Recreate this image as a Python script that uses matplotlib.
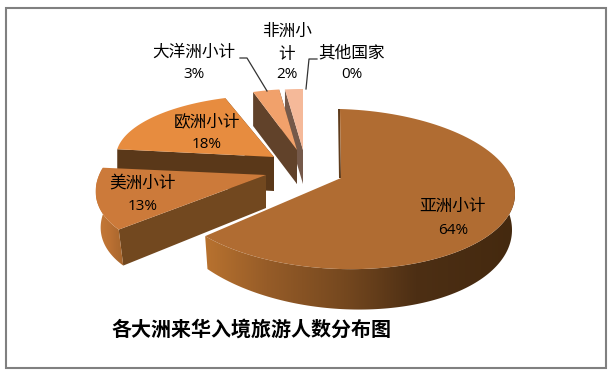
import matplotlib
matplotlib.use('Agg')
import matplotlib.pyplot as plt
from matplotlib.colors import LinearSegmentedColormap
from matplotlib.patches import Polygon, Rectangle
import numpy as np

plt.rcParams['font.family'] = ['Noto Sans CJK SC', 'DejaVu Sans']

regions = ['亚洲小计', '美洲小计', '欧洲小计', '大洋洲小计', '非洲小计', '其他国家']
shares = [64, 13, 18, 3, 2, 0]
title = '各大洲来华入境旅游人数分布图'

# one entry per slice, pixels: apex, top rim (ox, oy, a, b, c, d), bottom rim, depth
shapes = [
    dict(apex=(341, 178), rim=(-1, 11, 175, 0, 80, 5), low=(-1, 42, 172, 0, 89, 10), depth=34,
         top='#b06c32', edge='#6b4420', wall_span=(78, 230.4),
         wall=[(0, '#b8722f'), (0.2, '#965c28'), (0.45, '#75481f'), (0.68, '#4d2f14'), (1, '#44290f')]),
    dict(apex=(266, 175), rim=(0, 0, 168, 28, 82, -3), low=(3, 36, 166, 28, 82, -3), depth=33,
         top='#cc7a3a', edge='#72481f', wall_span=(230.4, 277),
         wall=[(0, '#c67a38'), (0.5, '#bb7133'), (1, '#a5642c')]),
    dict(apex=(274, 157), rim=(0, 0, 158, 0, 62, 0), low=(0, 34, 158, 0, 62, 0), depth=34,
         top='#e78c3f', edge='#5a3819', wall_span=None, wall=None),
    dict(apex=(297, 150), rim=(0, 0, 142, 0, 61, 0), low=(0, 34, 142, 0, 61, 0), depth=34,
         top='#f1a16b', edge='#61422a', wall_span=None, wall=None),
    dict(apex=(303, 150), rim=(0, 0, 144, 0, 61, 0), low=(0, 34, 144, 0, 61, 0), depth=34,
         top='#f5b999', edge='#75594a', wall_span=None, wall=None),
]

# label centre x, name centre y, percent centre y
label_pos = [
    (453, 206, 230),
    (143, 183, 206),
    (207, 122, 145),
    (194, 52, 75),
    (287, 43, 75),
    (352, 53, 75),
]
label_names = ['亚洲小计', '美洲小计', '欧洲小计', '大洋洲小计', '非洲小\n计', '其他国家']


def rim_point(apex, p, theta):
    s, c = np.sin(np.radians(theta)), np.cos(np.radians(theta))
    return (apex[0] + p[0] + p[2] * s + p[3] * c,
            apex[1] + p[1] - p[4] * c + p[5] * s)


def rim_curve(apex, p, t0, t1, n=120):
    return [rim_point(apex, p, t) for t in np.linspace(t0, t1, n)]


def draw_slice(ax, shape, t0, t1):
    apex = shape['apex']
    rim, low, depth = shape['rim'], shape['low'], shape['depth']
    apex_low = (apex[0], apex[1] + depth)

    start = rim_point(apex, rim, t0)
    start_low = rim_point(apex, low, t0)
    end = rim_point(apex, rim, t1)
    end_low = rim_point(apex, low, t1)

    # flat walls along the radial edges that face the viewer
    if t0 > 200:
        ax.add_patch(Polygon([start, apex, apex_low, start_low], closed=True,
                             fc=shape['edge'], ec='none'))
    if t1 > 300:
        ax.add_patch(Polygon([end, apex, apex_low, end_low], closed=True,
                             fc=shape['edge'], ec='none'))
    if t0 < 1:
        ax.add_patch(Polygon([(start[0] - 2, start[1]), start, apex, (apex[0] - 2, apex[1])],
                             closed=True, fc='#5f3c1c', ec='none'))

    # curved outer wall, gradient image clipped to the wall outline
    if shape['wall'] is not None:
        w0, w1 = shape['wall_span']
        outline = rim_curve(apex, rim, w0, w1) + rim_curve(apex, low, w1, w0)
        xs = [p[0] for p in outline]
        ys = [p[1] for p in outline]
        cmap = LinearSegmentedColormap.from_list('wall', shape['wall'])
        im = ax.imshow(np.linspace(0, 1, 256)[None, :], cmap=cmap, aspect='auto',
                       extent=(min(xs), max(xs), max(ys), min(ys)), zorder=1)
        im.set_clip_path(Polygon(outline, closed=True, transform=ax.transData))

    top = [apex] + rim_curve(apex, rim, t0, t1)
    ax.add_patch(Polygon(top, closed=True, fc=shape['top'], ec='none', zorder=1))


fig = plt.figure(figsize=(6.13, 3.73), dpi=100)
ax = fig.add_axes([0, 0, 1, 1])
ax.axis('off')

ax.add_patch(Rectangle((6, 8), 600, 360, fc='white', ec='#808080', lw=1.5, zorder=0))

# angles run clockwise from 12 o'clock, values drive the slice spans
edges = np.cumsum([0] + shares) / sum(shares) * 360
draw_order = [4, 3, 2, 0, 1]
for i in draw_order:
    draw_slice(ax, shapes[i], edges[i], edges[i + 1])

ax.set_xlim(0, 613)
ax.set_ylim(373, 0)

for (x, y_name, y_pct), name, pct in zip(label_pos, label_names, shares):
    ax.text(x, y_name, name, fontsize=12, ha='center', va='center', color='black',
            linespacing=1.4, zorder=5)
    ax.text(x, y_pct, f'{pct}%', fontsize=11, ha='center', va='center', color='black',
            family=['Open Sans', 'DejaVu Sans'], zorder=5)

# leader lines
ax.plot([240, 247, 267], [58, 58, 91], color='#333333', lw=0.9, zorder=5)
ax.plot([317, 309, 306], [59, 59, 89], color='#333333', lw=0.9, zorder=5)

ax.text(112, 329, title, fontsize=14.4, fontweight='bold', ha='left', va='center',
        color='black', zorder=5)

fig.savefig('out.png', dpi=100)
